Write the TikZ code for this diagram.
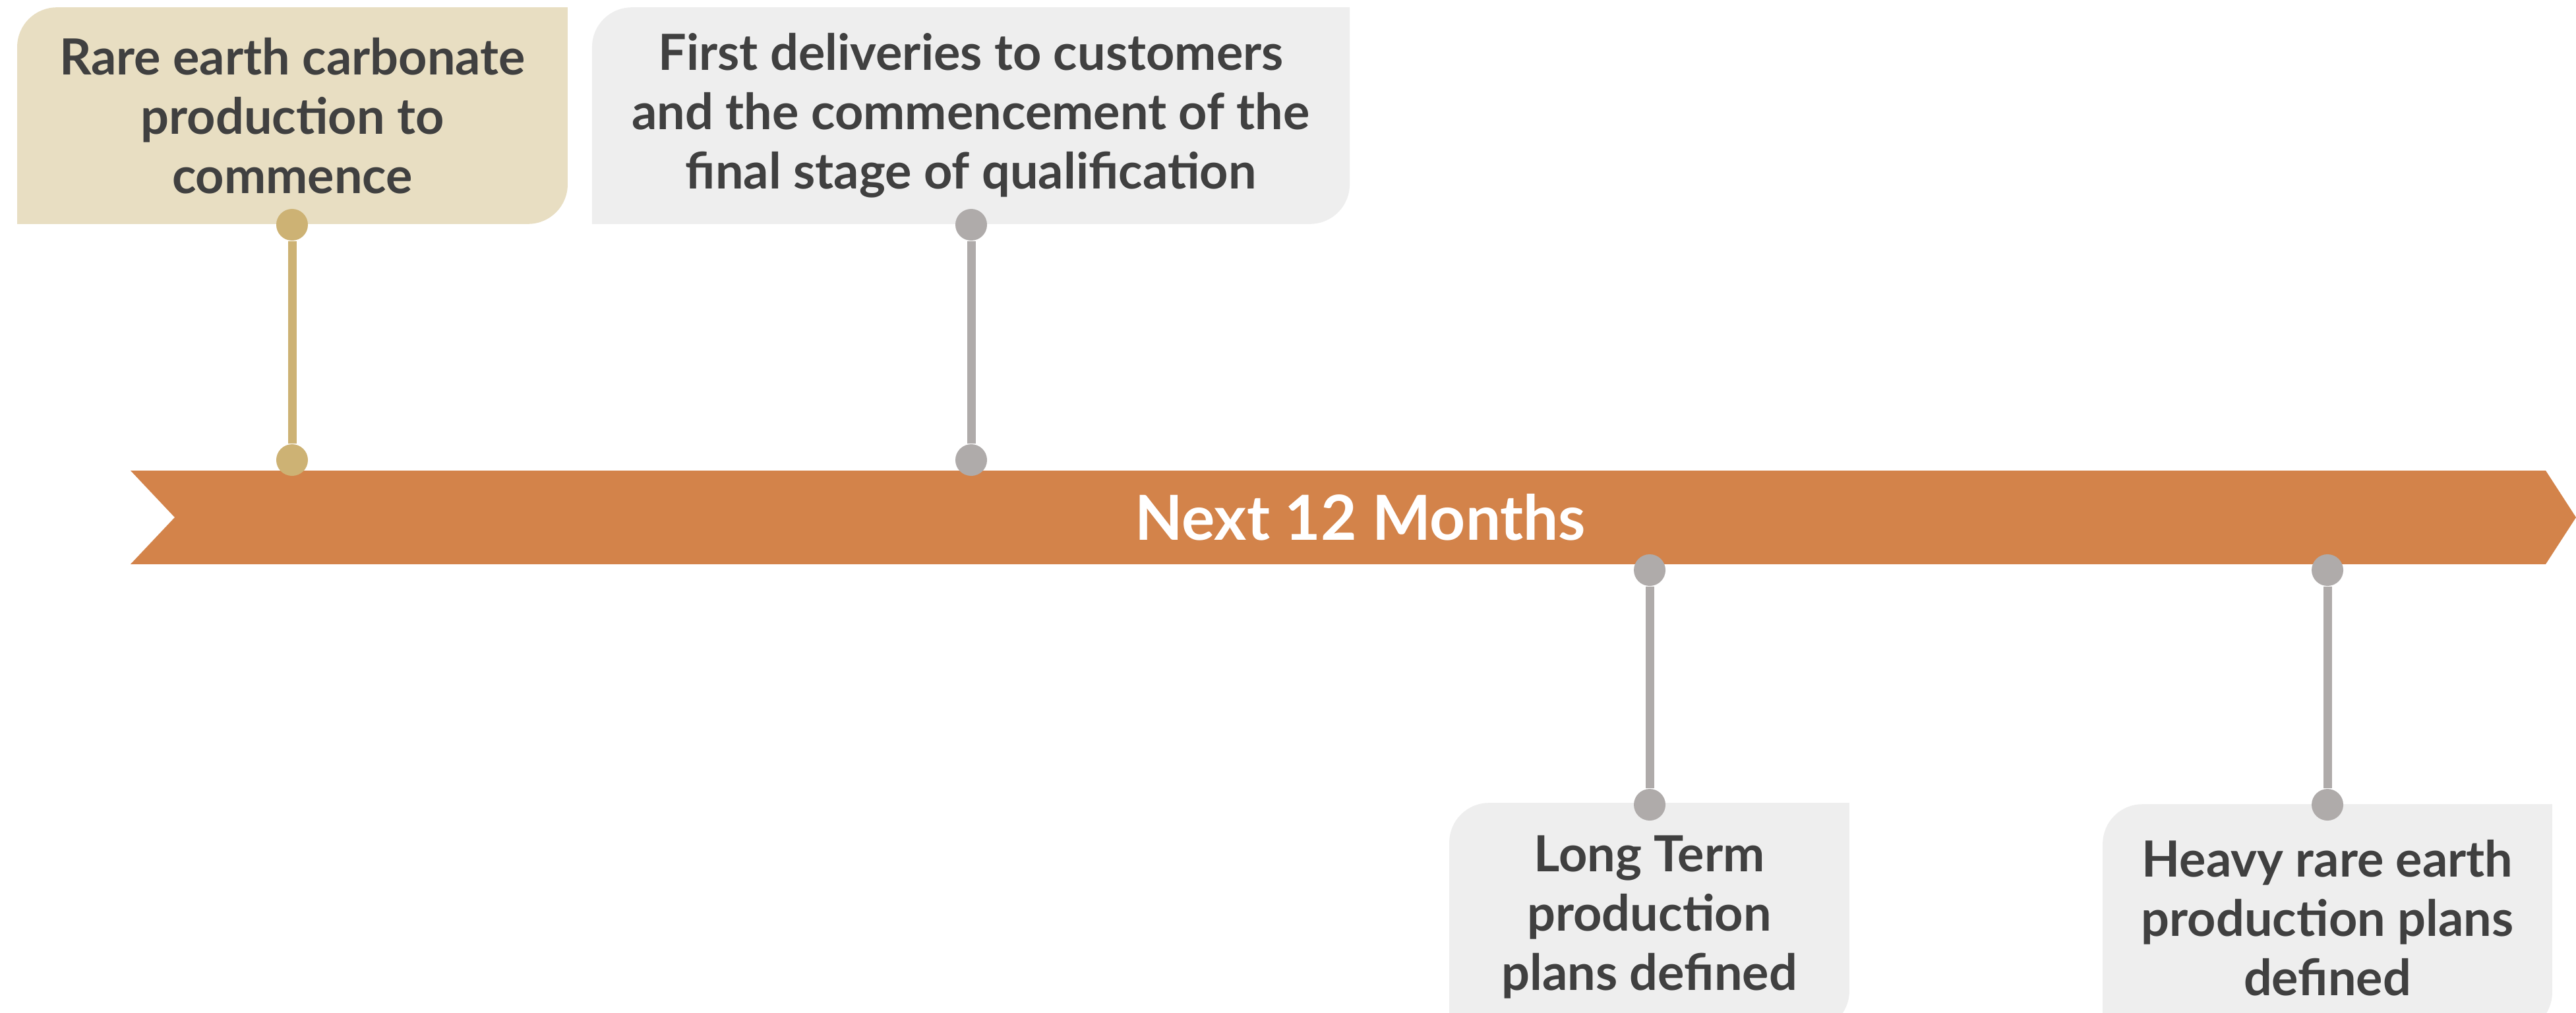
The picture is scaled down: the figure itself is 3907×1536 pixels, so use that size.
\documentclass[tikz,border=0pt]{standalone}
\usepackage{fontspec}
\setmainfont{Lato}
\usetikzlibrary{backgrounds}

\definecolor{bandfill}{RGB}{211,131,74}
\definecolor{tanfill}{RGB}{232,222,194}
\definecolor{greyfill}{RGB}{238,238,238}
\definecolor{tanline}{RGB}{205,178,116}
\definecolor{greyline}{RGB}{175,171,170}
\definecolor{textgrey}{RGB}{64,64,64}

\tikzset{
  eventbox/.style={inner sep=0pt, align=center, text=textgrey,
    font=\fontsize{21.5}{25.6}\selectfont\bfseries},
  pin/.style={circle, inner sep=0pt, minimum size=0.48cm, fill=#1},
  stem/.style={line width=0.13cm, draw=#1},
}

\begin{document}
\begin{tikzpicture}[x=0.01cm, y=-0.01cm]
\useasboundingbox (0,0) rectangle (3907,1536);

% 时间轴
\fill[bandfill] (198,714) -- (3861,714) -- (3907,785) -- (3861,856) -- (198,856) -- (265,785) -- cycle;
\node[font=\fontsize{26.8}{30}\selectfont\bfseries, text=white] (band) at (2063,785) {Next 12 Months};

% 上方事件
\node[eventbox, minimum width=8.33cm, minimum height=3.27cm] (carb) at (443.5,175.5)
  {Rare earth carbonate\\production to\\commence};
\node[eventbox, minimum width=11.47cm, minimum height=3.27cm] (deliv) at (1472.5,175.5)
  {First deliveries to customers\\and the commencement of the\\final stage of qualification};

% 下方事件
\node[eventbox, minimum width=6.05cm, minimum height=3.44cm] (longterm) at (2501.5,1391)
  {Long Term\\production\\plans defined};
\node[eventbox, minimum width=6.80cm, minimum height=3.44cm] (heavy) at (3530,1393)
  {Heavy rare earth\\production plans\\defined};

% 方框底色
\begin{scope}[on background layer]
\foreach \b/\c in {carb/tanfill, deliv/greyfill, longterm/greyfill, heavy/greyfill}
  \fill[\c] (\b.south west) -- ([yshift=-6mm]\b.north west)
    arc[start angle=180, end angle=90, radius=6mm] -- (\b.north east)
    -- ([yshift=6mm]\b.south east) arc[start angle=0, end angle=-90, radius=6mm] -- cycle;
\end{scope}

% 连接点
\node[pin=tanline] (carbtop) at (443,341) {};
\node[pin=tanline] (carbbot) at (443,698) {};
\node[pin=greyline] (delivtop) at (1473,341) {};
\node[pin=greyline] (delivbot) at (1473,698) {};
\node[pin=greyline] (longtop) at (2502,865) {};
\node[pin=greyline] (longbot) at (2502,1221) {};
\node[pin=greyline] (heavytop) at (3530,865) {};
\node[pin=greyline] (heavybot) at (3530,1221) {};

\draw[stem=tanline] (carbtop) -- (carbbot);
\foreach \p in {deliv, long, heavy}
  \draw[stem=greyline] (\p top) -- (\p bot);
\end{tikzpicture}
\end{document}
